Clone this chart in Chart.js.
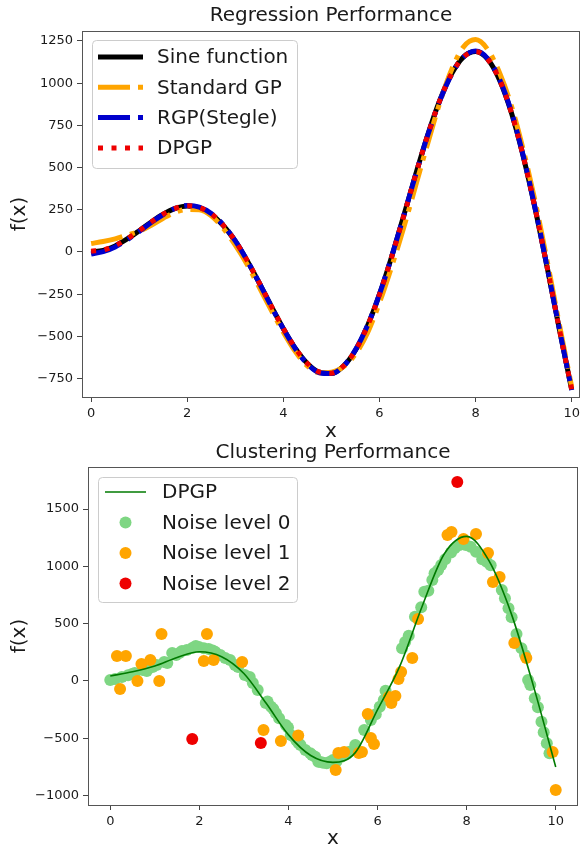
<!DOCTYPE html>
<html>
<head>
<meta charset="utf-8">
<script src="https://cdn.jsdelivr.net/npm/chart.js@4.4.0/dist/chart.umd.min.js"></script>
<style>
  html, body { margin: 0; padding: 0; background: #fff; }
  #wrap { position: relative; width: 584px; height: 849px; }
  canvas { position: absolute; left: 0; }
</style>
</head>
<body>
<div id="wrap">
  <canvas id="regChart" width="584" height="442" style="top:0px"></canvas>
  <canvas id="clusChart" width="584" height="407" style="top:442px"></canvas>
</div>
<script>
// ---- Regression Performance data ----
const regX = [0, 0.25, 0.5, 0.75, 1, 1.25, 1.5, 1.75, 2, 2.25, 2.5, 2.75, 3, 3.25, 3.5, 3.75, 4, 4.25, 4.5, 4.75,
  5, 5.25, 5.5, 5.75, 6, 6.25, 6.5, 6.75, 7, 7.25, 7.5, 7.75, 8, 8.25, 8.5, 8.75, 9, 9.25, 9.5, 9.75, 10];
const sineValues = [0, 9, 36, 77, 126, 178, 224, 258, 273, 263, 224, 157, 64, -53, -184, -322, -454, -571, -660, -712,
  -719, -676, -582, -438, -251, -31, 210, 456, 690, 895, 1055, 1156, 1187, 1142, 1018, 820, 556, 242, -107, -467, -816];
const standardGpValues = [50, 62, 78, 100, 122, 158, 200, 235, 252, 250, 215, 140, 40, -75, -210, -345, -475, -590, -675, -715,
  -712, -680, -605, -480, -300, -90, 140, 390, 640, 880, 1080, 1215, 1258, 1200, 1060, 860, 595, 285, -70, -440, -800];
const rgpValues = [-12, 2, 30, 72, 122, 175, 222, 258, 275, 266, 228, 160, 66, -52, -184, -322, -455, -573, -663, -715,
  -720, -676, -580, -436, -250, -30, 210, 455, 688, 892, 1052, 1155, 1190, 1146, 1022, 825, 560, 245, -105, -466, -818];
const dpgpValues = [5, 12, 38, 78, 126, 178, 224, 258, 274, 264, 226, 158, 65, -52, -183, -321, -453, -570, -660, -711,
  -718, -676, -582, -438, -252, -32, 209, 455, 689, 894, 1054, 1155, 1188, 1143, 1019, 821, 557, 243, -106, -467, -816];
const regXTicks = [0, 2, 4, 6, 8, 10];
const regYTicks = [-750, -500, -250, 0, 250, 500, 750, 1000, 1250];

// ---- Clustering Performance data ----
const clusLineX = [0, 0.5, 1, 1.5, 2, 2.5, 3, 3.5, 4, 4.5, 5, 5.5, 6, 6.5, 7, 7.5, 8, 8.5, 9, 9.5, 10];
const clusLineY = [44, 80, 130, 205, 255, 212, 65, -195, -470, -650, -710, -625, -250, 130, 650, 1110, 1262, 1050, 590, -45, -750];
const noise0X = [0.00, 0.11, 0.26, 0.40, 0.49, 0.55, 0.73, 0.82, 0.95, 1.04, 1.21, 1.28, 1.39, 1.48, 1.55, 1.61, 1.72, 1.85, 1.92, 1.99,
  2.10, 2.21, 2.30, 2.36, 2.47, 2.58, 2.69, 2.80, 2.87, 3.02, 3.13, 3.20, 3.31, 3.49, 3.53, 3.61, 3.66, 3.72, 3.79, 3.94,
  3.99, 4.05, 4.12, 4.18, 4.23, 4.27, 4.38, 4.49, 4.53, 4.60, 4.67, 4.72, 4.78, 4.86, 4.92, 5.00, 5.08, 5.19, 5.30, 5.37,
  5.50, 5.70, 5.85, 5.96, 6.05, 6.14, 6.18, 6.55, 6.62, 6.70, 6.84, 6.98, 7.05, 7.14, 7.23, 7.28, 7.36, 7.43, 7.52, 7.65,
  7.73, 7.84, 7.98, 8.09, 8.21, 8.35, 8.45, 8.54, 8.79, 8.86, 8.94, 9.01, 9.12, 9.23, 9.31, 9.38, 9.43, 9.53, 9.60, 9.68,
  9.73, 9.80, 9.86];
const noise0Y = [9, 17, 35, 50, 61, 70, 96, 87, 122, 140, 166, 157, 244, 227, 245, 262, 270, 290, 305, 297,
  285, 279, 265, 253, 227, 201, 183, 140, 122, 52, 35, -17, -79, -192, -180, -224, -245, -282, -326, -384,
  -405, -471, -486, -520, -544, -558, -602, -631, -646, -660, -704, -706, -713, -718, -706, -689, -700, -660, -640, -617,
  -558, -428, -340, -290, -224, -166, -85, 285, 340, 395, 561, 643, 779, 788, 881, 940, 969, 1012, 1062, 1120,
  1158, 1187, 1187, 1172, 1128, 1062, 1040, 1010, 794, 722, 634, 556, 410, 285, 227, 9, -35, -151, -229, -355,
  -448, -544, -631];
const noise1X = [0.15, 0.22, 0.35, 0.61, 0.70, 0.90, 1.10, 1.15, 2.10, 2.17, 2.32, 2.96, 3.44, 3.83, 4.22, 5.06, 5.12, 5.25, 5.58, 5.65,
  5.78, 5.85, 5.92, 6.25, 6.31, 6.40, 6.47, 6.53, 6.78, 6.91, 7.57, 7.66, 7.93, 8.21, 8.48, 8.59, 8.74, 9.07, 9.34, 9.93, 10.0];
const noise1Y = [218, -70, 218, 0, 148, 183, 0, 410, 175, 410, 183, 166, -428, -524, -476, -777, -628, -620, -628, -620,
  -288, -497, -550, -140, -192, -131, 17, 79, 200, 541, 1274, 1300, 1239, 1283, 1117, 864, 908, 332, 200, -620, -951];
const noise2X = [1.84, 3.38, 7.79];
const noise2Y = [-506, -541, 1736];
const clusXTicks = [0, 2, 4, 6, 8, 10];
const clusYTicks = [-1000, -500, 0, 500, 1000, 1500];

const FONT = 'DejaVu Sans';
const TEXT = '#1a1a1a';

function pts(xs, ys) { return xs.map((x, i) => ({ x: x, y: ys[i] })); }
function fmt(v) { return v < 0 ? '\u2212' + Math.abs(v) : String(v); }

// plot frame, title above plot area, legend box inside the plot
const decorPlugin = {
  id: 'decor',
  afterDatasetsDraw(chart, args, o) {
    const ctx = chart.ctx, a = chart.chartArea;
    ctx.save();
    ctx.strokeStyle = '#555';
    ctx.lineWidth = 1;
    ctx.strokeRect(Math.round(a.left) + 0.5, Math.round(a.top) + 0.5,
      Math.round(a.right - a.left) - 1, Math.round(a.bottom - a.top));

    ctx.fillStyle = TEXT;
    ctx.font = '20px "' + FONT + '"';
    ctx.textAlign = 'center';
    ctx.textBaseline = 'middle';
    ctx.fillText(o.title, (a.left + a.right) / 2, o.titleY);

    // legend
    const L = o.legend;
    const bx = a.left + L.dx, by = a.top + L.dy;
    ctx.beginPath();
    ctx.roundRect(bx + 0.5, by + 0.5, L.w, L.h, 4);
    ctx.fillStyle = 'rgba(255,255,255,0.8)';
    ctx.fill();
    ctx.strokeStyle = '#cccccc';
    ctx.stroke();
    L.items.forEach((idx, k) => {
      const ds = chart.data.datasets[idx];
      const y = by + L.first + k * L.step;
      if (ds.showLine) {
        ctx.save();
        ctx.beginPath();
        ctx.setLineDash(ds.borderDash || []);
        ctx.lineWidth = ds.borderWidth;
        ctx.strokeStyle = ds.borderColor;
        ctx.moveTo(bx + L.h1, y);
        ctx.lineTo(bx + L.h2, y);
        ctx.stroke();
        ctx.restore();
      } else {
        ctx.beginPath();
        ctx.arc(bx + (L.h1 + L.h2) / 2, y, ds.pointRadius, 0, Math.PI * 2);
        ctx.fillStyle = ds.backgroundColor;
        ctx.fill();
      }
      ctx.fillStyle = TEXT;
      ctx.font = '20px "' + FONT + '"';
      ctx.textAlign = 'left';
      ctx.textBaseline = 'middle';
      ctx.fillText(ds.label, bx + L.tx, y + 1);
    });
    ctx.restore();
  }
};

function xAxis(min, max, ticks, height, titlePad) {
  return {
    type: 'linear', min: min, max: max,
    afterBuildTicks: s => { s.ticks = ticks.map(v => ({ value: v })); },
    afterFit: s => { s.height = height; },
    grid: { display: true, drawOnChartArea: false, drawTicks: true, tickLength: 5, tickColor: '#444' },
    border: { display: false },
    ticks: { color: TEXT, font: { family: FONT, size: 13 }, padding: 4, maxRotation: 0, callback: v => fmt(v) },
    title: { display: true, text: 'x', color: TEXT, font: { family: FONT, size: 20, lineHeight: 1 },
      padding: { top: 0, bottom: titlePad } }
  };
}
function yAxis(min, max, ticks, width, titlePad) {
  return {
    type: 'linear', min: min, max: max,
    afterBuildTicks: s => { s.ticks = ticks.map(v => ({ value: v })); },
    afterFit: s => { s.width = width; },
    grid: { display: true, drawOnChartArea: false, drawTicks: true, tickLength: 5, tickColor: '#444' },
    border: { display: false },
    ticks: { color: TEXT, font: { family: FONT, size: 13 }, padding: 4, callback: v => fmt(v) },
    title: { display: true, text: 'f(x)', color: TEXT, font: { family: FONT, size: 20, lineHeight: 1 },
      padding: { top: titlePad, bottom: 0 } }
  };
}

function lineSet(label, ys, color, width, dash, order) {
  return {
    label: label, data: pts(regX, ys), showLine: true, pointRadius: 0,
    borderColor: color, borderWidth: width, borderDash: dash,
    cubicInterpolationMode: 'monotone', order: order
  };
}

new Chart(document.getElementById('regChart'), {
  type: 'scatter',
  data: {
    datasets: [
      lineSet('Sine function', sineValues, '#000000', 5, [], 4),
      lineSet('Standard GP', standardGpValues, '#ffa500', 5, [32, 8, 5, 8], 3),
      lineSet('RGP(Stegle)', rgpValues, '#0000cc', 5, [32, 8, 5, 8], 2),
      lineSet('DPGP', dpgpValues, '#ee0000', 5, [5, 8.5], 1)
    ]
  },
  options: {
    responsive: false, animation: false, events: [],
    layout: { padding: { top: 31, right: 1, left: 0, bottom: 0 } },
    scales: {
      x: xAxis(-0.19, 10.17, regXTicks, 45, 0),
      y: yAxis(-859, 1309, regYTicks, 82, 10)
    },
    plugins: {
      legend: { display: false }, tooltip: { enabled: false },
      decor: {
        title: 'Regression Performance', titleY: 16,
        legend: { dx: 10, dy: 9, w: 205, h: 128, first: 17, step: 30.3, h1: 6, h2: 51, tx: 65, items: [0, 1, 2, 3] }
      }
    }
  },
  plugins: [decorPlugin]
});

new Chart(document.getElementById('clusChart'), {
  type: 'scatter',
  data: {
    datasets: [
      { label: 'DPGP', data: pts(clusLineX, clusLineY), showLine: true, pointRadius: 0,
        borderColor: '#007a00', borderWidth: 1.6, cubicInterpolationMode: 'monotone', order: 0 },
      { label: 'Noise level 0', data: pts(noise0X, noise0Y), pointRadius: 6, borderWidth: 0,
        backgroundColor: '#7ed683', order: 3 },
      { label: 'Noise level 1', data: pts(noise1X, noise1Y), pointRadius: 6, borderWidth: 0,
        backgroundColor: '#ffa500', order: 2 },
      { label: 'Noise level 2', data: pts(noise2X, noise2Y), pointRadius: 6, borderWidth: 0,
        backgroundColor: '#ee0000', order: 1 }
    ]
  },
  options: {
    responsive: false, animation: false, events: [],
    layout: { padding: { top: 25, right: 1, left: 0, bottom: 0 } },
    scales: {
      x: xAxis(-0.5, 10.5, clusXTicks, 44, 0),
      y: yAxis(-1082, 1867, clusYTicks, 88, 10)
    },
    plugins: {
      legend: { display: false }, tooltip: { enabled: false },
      decor: {
        title: 'Clustering Performance', titleY: 11,
        legend: { dx: 10, dy: 10, w: 199, h: 125, first: 15, step: 30.5, h1: 7, h2: 48, tx: 64, items: [0, 1, 2, 3] }
      }
    }
  },
  plugins: [decorPlugin]
});
</script>
</body>
</html>
